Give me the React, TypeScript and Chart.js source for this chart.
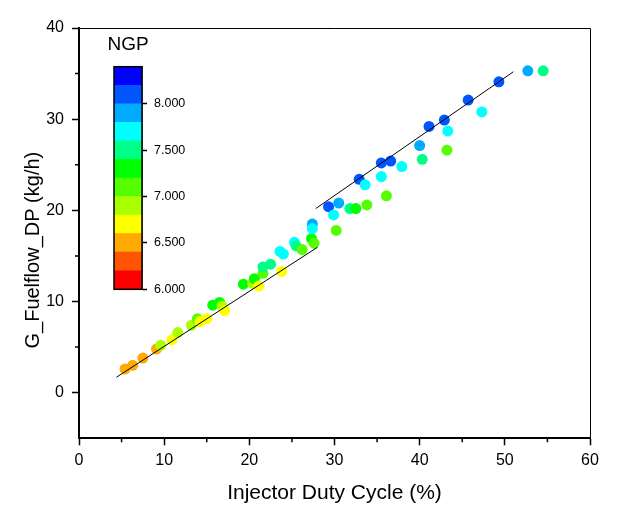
import React, { useEffect, useRef } from 'react';
import { Chart, registerables } from 'chart.js';

Chart.register(...registerables);

// ---- data ----
const dutyCycle = [
  5.4, 6.3, 7.5, 9.1, 9.6, 10.9, 11.6, 13.2, 13.9, 14.2, 15.0, 15.7, 16.5, 16.8, 17.1,
  19.3, 20.4, 20.6, 21.1, 21.6, 21.6, 22.5, 23.8, 23.6, 24.0, 25.3, 25.5, 26.2, 27.3, 27.6, 27.4, 27.4,
  29.3, 30.5, 29.9, 30.2, 31.8, 32.5, 33.8, 32.9, 33.6, 35.5, 36.1, 35.5, 36.6, 37.9, 40.0, 40.3,
  41.1, 42.9, 43.3, 43.2, 45.7, 47.3, 49.3, 52.7, 54.5,
];
const fuelflow = [
  2.6, 3.0, 3.8, 4.8, 5.2, 5.8, 6.6, 7.4, 8.1, 7.8, 8.1, 9.6, 9.9, 9.5, 9.0,
  11.9, 12.0, 12.5, 11.7, 13.1, 13.8, 14.1, 13.3, 15.5, 15.2, 16.5, 16.1, 15.7, 16.9, 16.4, 18.5, 18.0,
  20.4, 20.8, 19.5, 17.8, 20.2, 20.2, 20.6, 23.4, 22.8, 23.7, 21.6, 25.2, 25.4, 24.8, 27.1, 25.6,
  29.2, 29.9, 28.7, 26.6, 32.1, 30.8, 34.1, 35.3, 35.3,
];
const ngp = [
  6.5, 6.5, 6.5, 6.5, 6.9, 6.7, 6.9, 6.9, 7.1, 6.7, 6.7, 7.3, 7.3, 6.9, 6.7,
  7.3, 6.9, 7.3, 6.7, 7.1, 7.5, 7.5, 6.7, 7.7, 7.7, 7.7, 7.5, 7.1, 7.3, 7.1, 7.9, 7.7,
  8.1, 7.9, 7.7, 7.1, 7.5, 7.3, 7.1, 8.1, 7.7, 7.7, 7.1, 8.1, 8.1, 7.7, 7.9, 7.5,
  8.1, 8.1, 7.7, 7.1, 8.1, 7.7, 8.1, 7.9, 7.5,
];

const fitLowX = [4.4, 28.0];
const fitLowY = [1.7, 15.95];
const fitHighX = [27.8, 51.0];
const fitHighY = [20.2, 35.2];

const xTicks = [0, 10, 20, 30, 40, 50, 60];
const xMinorTicks = [5, 15, 25, 35, 45, 55];
const yTicks = [0, 10, 20, 30, 40];
const yMinorTicks = [5, 15, 25, 35];

const ngpBandEdges = [6.0, 6.2, 6.4, 6.6, 6.8, 7.0, 7.2, 7.4, 7.6, 7.8, 8.0, 8.2, 8.4];
const ngpBandColors = [
  '#FF0000', '#FF5500', '#FFAA00', '#FFFF00', '#AAFF00', '#55FF00',
  '#00FF00', '#00FF88', '#00FFFF', '#00AAFF', '#0055FF', '#0000FF',
];
const ngpTicks = [6.0, 6.5, 7.0, 7.5, 8.0];

const xTitle = 'Injector Duty Cycle (%)';
const yTitle = 'G_Fuelflow_DP (kg/h)';
const cbTitle = 'NGP';

const FONT = '"Liberation Sans", Arial, sans-serif';

function colorFor(v: number): string {
  for (let i = 0; i < ngpBandColors.length; i++) {
    if (v >= ngpBandEdges[i] && v < ngpBandEdges[i + 1]) return ngpBandColors[i];
  }
  return ngpBandColors[ngpBandColors.length - 1];
}

const framePlugin = {
  id: 'frame',
  afterDraw(chart: any) {
    const { ctx, chartArea, scales } = chart;
    const { left, right, top, bottom } = chartArea;
    ctx.save();
    ctx.strokeStyle = '#000';
    ctx.lineWidth = 1;
    ctx.beginPath();
    ctx.moveTo(left, top + 0.5);
    ctx.lineTo(right + 0.5, top + 0.5);
    ctx.lineTo(right + 0.5, bottom);
    ctx.stroke();
    ctx.lineWidth = 1.5;
    ctx.beginPath();
    xMinorTicks.forEach((v) => {
      const px = scales.x.getPixelForValue(v);
      ctx.moveTo(px, bottom);
      ctx.lineTo(px, bottom + 4);
    });
    yMinorTicks.forEach((v) => {
      const py = scales.y.getPixelForValue(v);
      ctx.moveTo(left, py);
      ctx.lineTo(left - 4, py);
    });
    ctx.stroke();
    // y axis title (offset downward like the reference)
    ctx.fillStyle = '#000';
    ctx.font = `20px ${FONT}`;
    ctx.textAlign = 'center';
    ctx.textBaseline = 'middle';
    ctx.translate(33, (top + bottom) / 2 + 17);
    ctx.rotate(-Math.PI / 2);
    ctx.fillText(yTitle, 0, 0);
    ctx.restore();
  },
};

const colorbarPlugin = {
  id: 'cbframe',
  afterDraw(chart: any) {
    const { ctx, chartArea } = chart;
    const { left, right, top, bottom } = chartArea;
    ctx.save();
    ctx.strokeStyle = '#000';
    ctx.lineWidth = 1.5;
    ctx.strokeRect(left, top, right - left, bottom - top);
    ctx.fillStyle = '#000';
    ctx.font = `19px ${FONT}`;
    ctx.textAlign = 'center';
    ctx.textBaseline = 'middle';
    ctx.fillText(cbTitle, (left + right) / 2, top - 22);
    ctx.restore();
  },
};

export default function App() {
  const mainRef = useRef<HTMLCanvasElement>(null);
  const cbRef = useRef<HTMLCanvasElement>(null);

  useEffect(() => {
    document.body.style.margin = '0';
    const points = dutyCycle.map((x, i) => ({ x, y: fuelflow[i] }));
    const main = new Chart(mainRef.current!, {
      type: 'scatter',
      data: {
        datasets: [
          {
            type: 'line',
            data: fitLowX.map((x, i) => ({ x, y: fitLowY[i] })),
            borderColor: '#000',
            borderWidth: 1,
            pointRadius: 0,
            fill: false,
            order: 0,
          } as any,
          {
            type: 'line',
            data: fitHighX.map((x, i) => ({ x, y: fitHighY[i] })),
            borderColor: '#000',
            borderWidth: 1,
            pointRadius: 0,
            fill: false,
            order: 0,
          } as any,
          {
            data: points,
            backgroundColor: ngp.map(colorFor),
            pointRadius: 5.5,
            pointBorderWidth: 0,
            borderWidth: 0,
            order: 1,
          } as any,
        ],
      },
      options: {
        animation: false,
        responsive: true,
        maintainAspectRatio: false,
        events: [],
        layout: { padding: { left: 0, right: 34, top: 28, bottom: 0 } },
        plugins: { legend: { display: false }, tooltip: { enabled: false } },
        scales: {
          x: {
            type: 'linear',
            min: 0,
            max: 60,
            afterBuildTicks: (s: any) => { s.ticks = xTicks.map((v) => ({ value: v })); },
            afterFit: (s: any) => { s.height = 72.7; },
            ticks: { color: '#000', font: { family: FONT, size: 16 }, padding: 6, maxRotation: 0 },
            grid: { drawOnChartArea: false, drawTicks: true, tickLength: 7, tickColor: '#000', tickWidth: 1.5 },
            border: { color: '#000', width: 2 },
            title: {
              display: true,
              text: xTitle,
              color: '#000',
              font: { family: FONT, size: 21 },
              padding: { top: 0, bottom: 5 },
            },
          },
          y: {
            type: 'linear',
            min: -5,
            max: 40,
            afterBuildTicks: (s: any) => { s.ticks = yTicks.map((v) => ({ value: v })); },
            afterFit: (s: any) => { s.width = 79; },
            ticks: { color: '#000', font: { family: FONT, size: 16 }, padding: 8 },
            grid: { drawOnChartArea: false, drawTicks: true, tickLength: 7, tickColor: '#000', tickWidth: 1.5 },
            border: { color: '#000', width: 2 },
            title: { display: false },
          },
        },
      },
      plugins: [framePlugin],
    });

    const cb = new Chart(cbRef.current!, {
      type: 'bar',
      data: {
        labels: [''],
        datasets: ngpBandColors.map((c, i) => ({
          data: [[ngpBandEdges[i], ngpBandEdges[i + 1]]],
          backgroundColor: c,
          borderWidth: 0,
          barPercentage: 1,
          categoryPercentage: 1,
          grouped: false,
        })) as any,
      },
      options: {
        animation: false,
        responsive: true,
        maintainAspectRatio: false,
        events: [],
        layout: { padding: { left: 20, right: 0, top: 41.7, bottom: 15.7 } },
        plugins: { legend: { display: false }, tooltip: { enabled: false } },
        scales: {
          x: { display: false },
          y: {
            position: 'right',
            min: 6.0,
            max: 8.4,
            afterBuildTicks: (s: any) => { s.ticks = ngpTicks.map((v) => ({ value: v })); },
            afterFit: (s: any) => { s.width = 62; },
            ticks: {
              color: '#000',
              font: { family: FONT, size: 12.5 },
              padding: 7,
              callback: (v: any) => Number(v).toFixed(3),
            },
            grid: { drawOnChartArea: false, drawTicks: true, tickLength: 5, tickColor: '#000', tickWidth: 1.5 },
            border: { color: '#000', width: 1.5 },
          },
        },
      },
      plugins: [colorbarPlugin],
    });

    return () => {
      main.destroy();
      cb.destroy();
    };
  }, []);

  return (
    <div style={{ position: 'relative', width: 624, height: 511, background: '#fff' }}>
      <div style={{ position: 'absolute', left: 0, top: 0, width: 624, height: 511 }}>
        <canvas ref={mainRef} />
      </div>
      <div style={{ position: 'absolute', left: 94, top: 25, width: 110, height: 280 }}>
        <canvas ref={cbRef} />
      </div>
    </div>
  );
}
